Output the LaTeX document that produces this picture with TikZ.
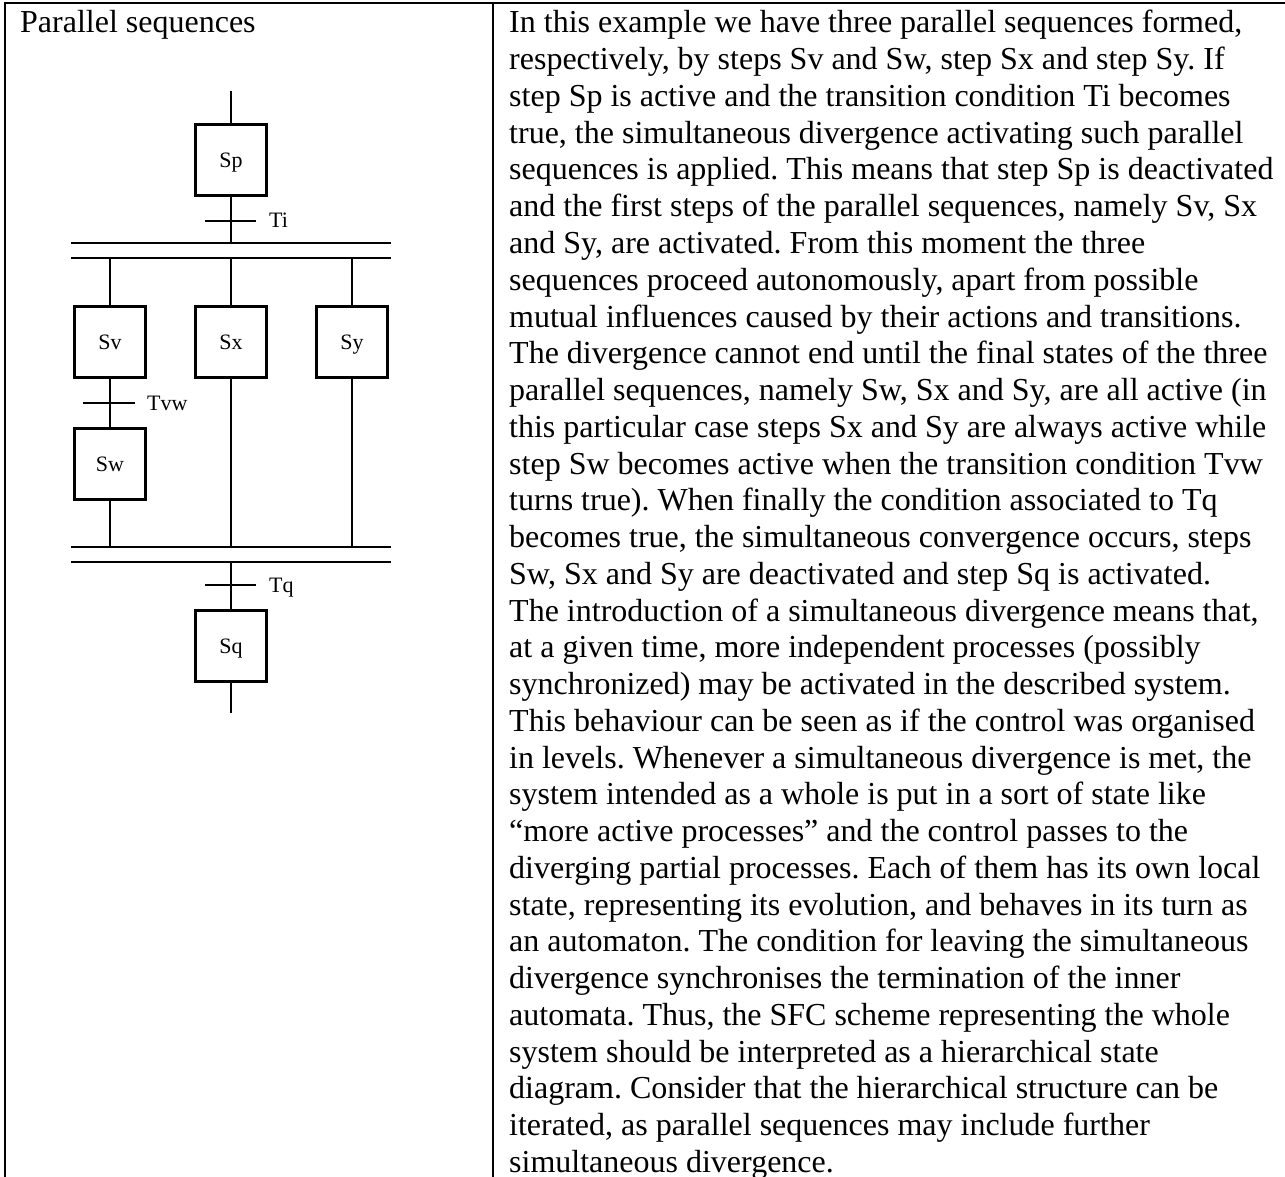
\documentclass[tikz,border=0pt]{standalone}
\usepackage{fontspec}
\setmainfont{Liberation Serif}
\frenchspacing
\begin{document}
\begin{tikzpicture}[x=1pt,y=-1pt,
  frame/.style={line width=2.6pt},
  stepbox/.style={draw, line width=3pt, minimum width=71pt, minimum height=71pt,
    inner sep=0pt, font=\fontsize{22}{26}\selectfont, text height=15pt, text depth=0pt},
  link/.style={line width=2pt},
  bar/.style={line width=2pt},
  tlabel/.style={anchor=base west, inner sep=0pt, font=\fontsize{22}{26}\selectfont},
  body/.style={anchor=base west, inner sep=0pt, font=\fontsize{32}{36.8}\selectfont}]
\useasboundingbox (0,0) rectangle (1285,1177);

% table rules
\coordinate (tl) at (5,3);
\coordinate (tr) at (1285,3);
\coordinate (bl) at (5,1177);
\coordinate (tm) at (493,3);
\coordinate (bm) at (493,1177);
\draw[frame] (tr) -- (tl) -- (bl);
\draw[frame] (tm) -- (bm);

% left cell title
\node[body] (title) at (20,33) {Parallel sequences};

% SFC: initial step and transition Ti
\node[stepbox] (Sp) at (231,160) {Sp};
\coordinate (spin) at (231,91);
\draw[link] (spin) -- (Sp.north);
\coordinate (ti) at (231,221);
\node[tlabel] (tiL) at (269,228) {Ti};

% simultaneous divergence (double bar)
\coordinate (da1) at (71,243);  \coordinate (db1) at (391,243);
\coordinate (da2) at (71,258);  \coordinate (db2) at (391,258);
\coordinate (dsp) at (231,243);
\draw[bar] (da1) -- (db1);
\draw[bar] (da2) -- (db2);
\draw[link] (Sp.south) -- (dsp);
\draw[bar] ([xshift=-26pt]ti) -- ([xshift=25pt]ti);

% parallel branches
\node[stepbox] (Sv) at (110,342) {Sv};
\node[stepbox] (Sx) at (231,342) {Sx};
\node[stepbox] (Sy) at (352,342) {Sy};
\node[stepbox] (Sw) at (110,463.5) {Sw};
\coordinate (bv) at (110,258);
\coordinate (bx) at (231,258);
\coordinate (by) at (352,258);
\draw[link] (bv) -- (Sv.north);
\draw[link] (bx) -- (Sx.north);
\draw[link] (by) -- (Sy.north);
\draw[link] (Sv.south) -- (Sw.north);
\coordinate (tvw) at (110,403);
\draw[bar] ([xshift=-27pt]tvw) -- ([xshift=25pt]tvw);
\node[tlabel] (tvwL) at (147,410) {Tvw};

% simultaneous convergence (double bar)
\coordinate (ca1) at (71,547);  \coordinate (cb1) at (391,547);
\coordinate (ca2) at (71,562);  \coordinate (cb2) at (391,562);
\draw[bar] (ca1) -- (cb1);
\draw[bar] (ca2) -- (cb2);
\coordinate (cw) at (110,547);
\coordinate (cx) at (231,547);
\coordinate (cy) at (352,547);
\draw[link] (Sw.south) -- (cw);
\draw[link] (Sx.south) -- (cx);
\draw[link] (Sy.south) -- (cy);

% transition Tq and final step
\node[stepbox] (Sq) at (231,645.5) {Sq};
\coordinate (cq) at (231,562);
\coordinate (sqout) at (231,713);
\draw[link] (cq) -- (Sq.north);
\draw[link] (Sq.south) -- (sqout);
\coordinate (tq) at (231,585);
\draw[bar] ([xshift=-26pt]tq) -- ([xshift=25pt]tq);
\node[tlabel] (tqL) at (269,592) {Tq};

% right cell: description
\foreach \t [count=\i] in {
  {In this example we have three parallel sequences formed,},
  {respectively, by steps Sv and Sw, step Sx and step Sy. If},
  {step Sp is active and the transition condition Ti becomes},
  {true, the simultaneous divergence activating such parallel},
  {sequences is applied. This means that step Sp is deactivated},
  {and the first steps of the parallel sequences, namely Sv, Sx},
  {and Sy, are activated. From this moment the three},
  {sequences proceed autonomously, apart from possible},
  {mutual influences caused by their actions and transitions.},
  {The divergence cannot end until the final states of the three},
  {parallel sequences, namely Sw, Sx and Sy, are all active (in},
  {this particular case steps Sx and Sy are always active while},
  {step Sw becomes active when the transition condition Tvw},
  {turns true). When finally the condition associated to Tq},
  {becomes true, the simultaneous convergence occurs, steps},
  {Sw, Sx and Sy are deactivated and step Sq is activated.},
  {The introduction of a simultaneous divergence means that,},
  {at a given time, more independent processes (possibly},
  {synchronized) may be activated in the described system.},
  {This behaviour can be seen as if the control was organised},
  {in levels. Whenever a simultaneous divergence is met, the},
  {system intended as a whole is put in a sort of state like},
  {“more active processes” and the control passes to the},
  {diverging partial processes. Each of them has its own local},
  {state, representing its evolution, and behaves in its turn as},
  {an automaton. The condition for leaving the simultaneous},
  {divergence synchronises the termination of the inner},
  {automata. Thus, the SFC scheme representing the whole},
  {system should be interpreted as a hierarchical state},
  {diagram. Consider that the hierarchical structure can be},
  {iterated, as parallel sequences may include further},
  {simultaneous divergence.}}
  \node[body] (line\i) at (509,{33+36.75*(\i-1)}) {\t};
\end{tikzpicture}
\end{document}
